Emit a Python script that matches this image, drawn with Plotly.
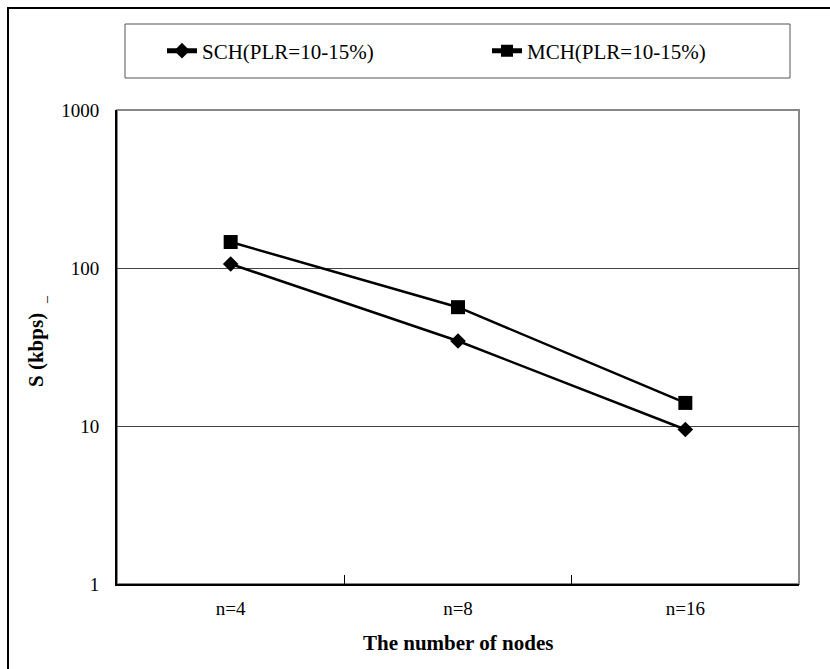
import plotly.graph_objects as go

categories = ["n=4", "n=8", "n=16"]
sch_values = [106, 34.5, 9.5]
mch_values = [146, 56.5, 14.0]
y_tick_vals = [1, 10, 100, 1000]
y_tick_text = ["1", "10", "100", "1000"]
series_names = ["SCH(PLR=10-15%)", "MCH(PLR=10-15%)"]

W, H = 830, 669
L, R, T, B = 117, 799, 110, 584

def px2x(px):
    return (px - L) / (R - L)

def px2y(py):
    return (B - py) / (B - T)

fig = go.Figure()
fig.add_trace(go.Scatter(
    x=categories, y=sch_values, name=series_names[0], mode="lines+markers",
    line=dict(color="black", width=2.5),
    marker=dict(symbol="diamond", size=12, color="black"),
))
fig.add_trace(go.Scatter(
    x=categories, y=mch_values, name=series_names[1], mode="lines+markers",
    line=dict(color="black", width=2.5),
    marker=dict(symbol="square", size=14, color="black"),
))

font_family = "Times New Roman, Liberation Serif, serif"

fig.update_layout(
    width=W, height=H,
    margin=dict(l=L, r=W - R, t=T, b=H - B, pad=0),
    paper_bgcolor="white", plot_bgcolor="white",
    font=dict(family=font_family, color="black", size=19),
    showlegend=True,
    legend=dict(
        orientation="h", x=px2x(162), y=px2y(51), xanchor="left", yanchor="middle",
        borderwidth=0, bgcolor="rgba(0,0,0,0)",
        font=dict(family=font_family, size=21, color="black"),
        entrywidth=280, entrywidthmode="pixels",
        itemsizing="constant",
    ),
    xaxis=dict(
        type="category", range=[-0.5, 2.5],
        showgrid=False, showline=True, linecolor="black", linewidth=2,
        ticks="inside", ticklen=9, tickcolor="black", tickwidth=1,
        tickson="boundaries", ticklabelstandoff=6,
        tickfont=dict(family=font_family, size=19),
        zeroline=False, fixedrange=True,
    ),
    yaxis=dict(
        type="log", range=[0, 3],
        tickvals=y_tick_vals, ticktext=y_tick_text,
        showgrid=True, gridcolor="#444", gridwidth=1,
        showline=True, linecolor="black", linewidth=2,
        ticks="", ticklabelstandoff=12,
        tickfont=dict(family=font_family, size=19),
        zeroline=False, fixedrange=True,
    ),
    shapes=[
        dict(type="rect", xref="paper", yref="paper",
             x0=0, x1=1, y0=0, y1=1, line=dict(color="#888", width=2), layer="below"),
        dict(type="rect", xref="paper", yref="paper",
             x0=px2x(8), x1=px2x(900), y0=px2y(8), y1=px2y(720),
             line=dict(color="black", width=2), layer="below"),
        dict(type="rect", xref="paper", yref="paper",
             x0=px2x(125), x1=px2x(790), y0=px2y(24), y1=px2y(78),
             line=dict(color="#555", width=1), layer="below"),
    ],
    annotations=[
        dict(text="<b>The number of nodes</b>", xref="paper", yref="paper",
             x=px2x(458), y=px2y(643), xanchor="center", yanchor="middle",
             showarrow=False, font=dict(family=font_family, size=21)),
        dict(text="<b>S (kbps)</b>", xref="paper", yref="paper",
             x=px2x(36), y=px2y(350), xanchor="center", yanchor="middle",
             textangle=-90, showarrow=False, font=dict(family=font_family, size=21)),
        dict(text="_", xref="paper", yref="paper",
             x=px2x(41), y=px2y(300), xanchor="center", yanchor="middle",
             textangle=-90, showarrow=False, font=dict(family=font_family, size=14)),
    ],
)

fig.write_html("out.html")
